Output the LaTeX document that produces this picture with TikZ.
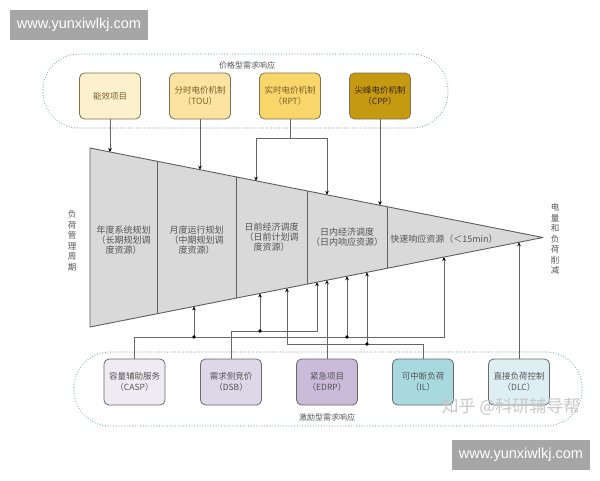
\documentclass[tikz,border=0pt]{standalone}
\usepackage{fontspec}
\newfontfamily\cjk{Noto Sans CJK SC}
\newfontfamily\wmfont{Liberation Sans}
\usetikzlibrary{arrows.meta}

\definecolor{linegray}{HTML}{666666}
\definecolor{txtgray}{HTML}{555555}
\definecolor{funnelfill}{HTML}{D9D9D9}
\definecolor{funneldraw}{HTML}{5E5E5E}
\definecolor{regioncol}{HTML}{82A6A8}
\definecolor{pboxline}{HTML}{7D7256}
\definecolor{pboxtext}{HTML}{7A6030}
\definecolor{iboxline}{HTML}{6A6A6A}
\definecolor{priceA}{HTML}{FDF0CC}
\definecolor{priceB}{HTML}{FCE3A0}
\definecolor{priceC}{HTML}{F8D66A}
\definecolor{priceD}{HTML}{C59A10}
\definecolor{incA}{HTML}{EEEBF3}
\definecolor{incB}{HTML}{DDD7E8}
\definecolor{incC}{HTML}{C9BBD9}
\definecolor{incD}{HTML}{A8D9DF}
\definecolor{incE}{HTML}{DDEFF3}
\definecolor{wmgray}{HTML}{A6A6A6}

\tikzset{
  region/.style={draw=regioncol, line width=1.2pt, line cap=round,
    dash pattern=on 0pt off 2.7pt, rounded corners=36pt},
  pbox/.style={draw=pboxline, line width=0.8pt, rounded corners=5pt,
    minimum width=61pt, minimum height=46pt, align=center, text=pboxtext,
    font=\cjk\fontsize{8.5}{11}\selectfont},
  ibox/.style={draw=iboxline, line width=0.8pt, rounded corners=5pt,
    minimum width=61pt, minimum height=46pt, align=center, text=txtgray,
    font=\cjk\fontsize{8.5}{11}\selectfont},
  segtext/.style={align=center, text=txtgray, font=\cjk\fontsize{9}{10.2}\selectfont},
  sidetext/.style={align=center, text=txtgray, font=\cjk\fontsize{8.5}{10.5}\selectfont},
  wire/.style={draw=linegray, line width=0.8pt},
  arr/.style={wire, -{Stealth[length=4pt, width=3.6pt, color=black]}},
  urlbox/.style={fill=wmgray, text=white, minimum width=138pt, minimum height=30pt,
    font=\wmfont\fontsize{14.5}{16}\selectfont}
}

\begin{document}
\begin{tikzpicture}[x=1pt, y=-1pt]
  \useasboundingbox (0,0) rectangle (600,480);

  % Watermarks
  \node[urlbox] (url1) at (79,25) {www.yunxiwlkj.com};
  \node[urlbox] (url2) at (521,455) {www.yunxiwlkj.com};

  % Price based response group
  \draw[region] (43,54) rectangle (448,128);
  \node[text=txtgray, font=\cjk\fontsize{8}{10}\selectfont] (ptitle) at (247,65) {价格型需求响应};
  \node[pbox, fill=priceA] (p1) at (110,96) {能效项目};
  \node[pbox, fill=priceB] (p2) at (200,96) {分时电价机制\\（TOU）};
  \node[pbox, fill=priceC] (p3) at (290,96) {实时电价机制\\（RPT）};
  \node[pbox, fill=priceD, text=black!70!brown] (p4) at (380,96) {尖峰电价机制\\（CPP）};

  % Incentive based response group
  \draw[region] (74,352) rectangle (582,426);
  \node[text=txtgray, font=\cjk\fontsize{8}{10}\selectfont] (ititle) at (327,417) {激励型需求响应};
  \node[ibox, fill=incA] (c1) at (134.5,382) {容量辅助服务\\（CASP）};
  \node[ibox, fill=incB] (c2) at (231,382) {需求侧竞价\\（DSB）};
  \node[ibox, fill=incC] (c3) at (327,382) {紧急项目\\（EDRP）};
  \node[ibox, fill=incD] (c4) at (423,382) {可中断负荷\\（IL）};
  \node[ibox, fill=incE] (c5) at (519,382) {直接负荷控制\\（DLC）};

  % Funnel
  \coordinate (ftl) at (90,148);
  \coordinate (fbl) at (90,327);
  \coordinate (fap) at (543,237.5);
  \draw[fill=funnelfill, draw=funneldraw, line width=0.9pt, line join=round] (ftl) -- (fap) -- (fbl) -- cycle;
  \draw[draw=funneldraw, line width=1pt] (157,161.2) -- (157,313.8);
  \draw[draw=funneldraw, line width=1pt] (236,176.8) -- (236,298.2);
  \draw[draw=funneldraw, line width=1pt] (307,190.9) -- (307,284.1);
  \draw[draw=funneldraw, line width=1pt] (387,206.7) -- (387,268.3);

  \node[segtext] (s1) at (123.5,240) {年度系统规划\\（长期规划调\\度资源）};
  \node[segtext] (s2) at (196.5,240) {月度运行规划\\（中期规划调\\度资源）};
  \node[segtext] (s3) at (271.5,237) {日前经济调度\\（日前计划调\\度资源）};
  \node[segtext] (s4) at (347,237.5) {日内经济调度\\（日内响应资源）};
  \node[segtext] (s5) at (444,239) {快速响应资源（＜15min）};

  \node[sidetext] (lside) at (72,241) {负\\荷\\管\\理\\周\\期};
  \node[sidetext] (rside) at (555,239) {电\\量\\和\\负\\荷\\削\\减};

  % Points on the funnel edges
  \coordinate (u1) at (110,152);
  \coordinate (u2) at (200,169.7);
  \coordinate (u3) at (256,180.8);
  \coordinate (u4) at (327,194.8);
  \coordinate (u5) at (380,205.3);
  \coordinate (w1) at (194,306.4);
  \coordinate (w2) at (260,293.4);
  \coordinate (w3) at (287,288.1);
  \coordinate (w4) at (317,282.1);
  \coordinate (w5) at (327,280.2);
  \coordinate (w6) at (347,276.2);
  \coordinate (w7) at (367,272.3);
  \coordinate (w8) at (444,257.0);
  \coordinate (w9) at (519,242.2);

  % Price connectors
  \coordinate (j3) at (290,138);
  \draw[arr] (p1) -- (u1);
  \draw[arr] (p2) -- (u2);
  \draw[wire] (p3) -- (j3);
  \draw[arr] (j3) -| (u3);
  \draw[arr] (j3) -| (u4);
  \draw[arr] (p4) -- (u5);

  % Incentive connectors
  \coordinate (bus1) at (444,337);
  \coordinate (bus2) at (317,331);
  \coordinate (bus4) at (287,344);
  \coordinate (d1) at (194,337);
  \coordinate (d2) at (260,331);
  \coordinate (d3) at (347,337);
  \coordinate (d4) at (367,344);
  \draw[arr] (c1) |- (bus1) -- (w8);
  \draw[arr] (c2) |- (bus2) -- (w4);
  \draw[arr] (c3) -- (w5);
  \draw[arr] (c4) |- (bus4) -- (w3);
  \draw[arr] (c5) -- (w9);
  \draw[arr] (d1) -- (w1);
  \draw[arr] (d2) -- (w2);
  \draw[arr] (d3) -- (w6);
  \draw[arr] (d4) -- (w7);
  \foreach \d in {d1,d2,d3,d4}
    \fill (\d) circle (1.8pt);

  \node[text=black!22, font=\cjk\fontsize{17}{20}\selectfont] (zhihu) at (511,407) {知乎 @科研辅导帮};
\end{tikzpicture}
\end{document}
